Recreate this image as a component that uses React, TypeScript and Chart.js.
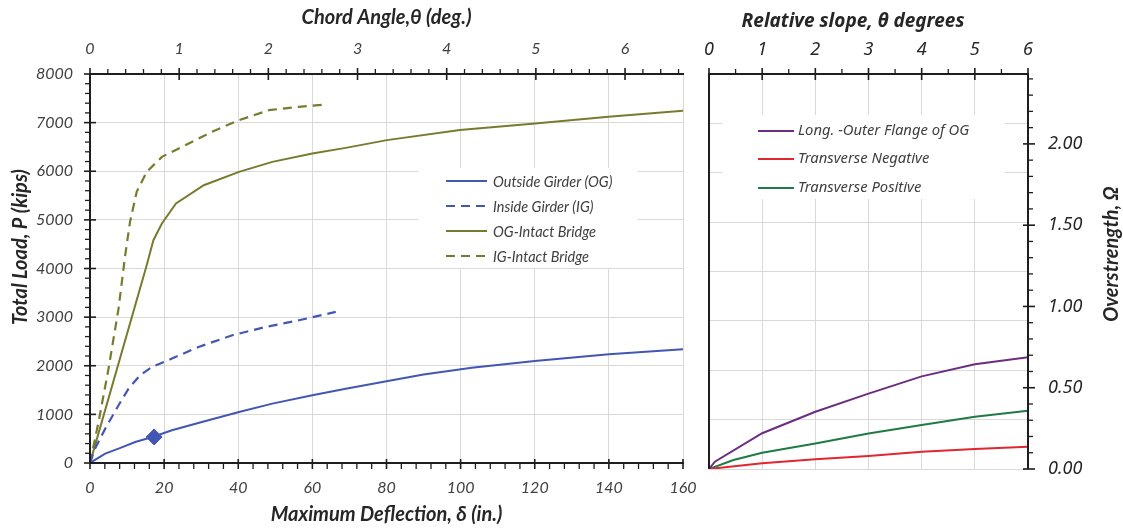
import React, { useEffect, useRef } from "react";
import { Chart, registerables } from "chart.js";

Chart.register(...registerables);

// ---------------- Left chart data: Total load vs maximum deflection ----------------
const ogDefl = [0, 4.1, 7.7, 12.2, 17.1, 22.1, 30.2, 40.2, 49.2, 60, 69, 80, 90, 103, 120, 140, 160];
const ogLoad = [0, 192, 295, 432, 540, 672, 844, 1049, 1221, 1392, 1529, 1680, 1820, 1960, 2100, 2235, 2340];

const igDefl = [0, 1.35, 4.1, 7.7, 10.4, 13.5, 16.7, 22.1, 29.3, 38.4, 47.4, 56.4, 66.3];
const igLoad = [0, 295, 706, 1187, 1529, 1804, 1975, 2147, 2387, 2627, 2798, 2936, 3107];

const ogIntactDefl = [0, 15.3, 17.1, 19.4, 23.2, 30.7, 40.2, 49.2, 60, 69, 80.1, 99.8, 120.1, 139.9, 160];
const ogIntactLoad = [0, 4067, 4582, 4925, 5336, 5713, 5988, 6193, 6365, 6481, 6640, 6846, 6984, 7119, 7243];

const igIntactDefl = [0, 2.3, 5.0, 7.7, 9.5, 10.8, 12.6, 15.3, 19.4, 25.7, 32.9, 40.2, 48.3, 56.4, 64.1];
const igIntactLoad = [0, 844, 1941, 3176, 4273, 4959, 5576, 5988, 6296, 6536, 6811, 7051, 7257, 7325, 7373];

const markerDefl = [17.3];
const markerLoad = [535];

const leftLabels = ["Outside Girder (OG)", "Inside Girder (IG)", "OG-Intact Bridge", "IG-Intact Bridge"];

// ---------------- Right chart data: Overstrength vs relative slope ----------------
const longSlope = [0, 0.11, 1, 2, 3, 4, 5, 6];
const longOmega = [0, 0.045, 0.22, 0.352, 0.464, 0.57, 0.645, 0.687];

const negSlope = [0, 1, 2, 3, 4, 5, 6];
const negOmega = [0, 0.035, 0.06, 0.08, 0.106, 0.123, 0.137];

const posSlope = [0, 0.46, 1, 2, 3, 4, 5, 6];
const posOmega = [0, 0.055, 0.1, 0.157, 0.219, 0.27, 0.321, 0.358];

const rightLabels = ["Long. -Outer Flange of OG", "Transverse Negative", "Transverse Positive"];

const BLUE = "#4356b4";
const OLIVE = "#787b2f";
const PURPLE = "#6c2d80";
const RED = "#e0262e";
const GREEN = "#1f7a45";
const GRID = "#d9d9d9";
const AXIS = "#1e1e1e";
const TEXT = "#404040";
const TITLE = "#262626";

const zip = (xs: number[], ys: number[]) => xs.map((x, i) => ({ x, y: ys[i] }));

function seg(ctx: CanvasRenderingContext2D, x1: number, y1: number, x2: number, y2: number, w: number) {
  ctx.lineWidth = w;
  ctx.beginPath();
  ctx.moveTo(x1, y1);
  ctx.lineTo(x2, y2);
  ctx.stroke();
}

const noPad = (s: any) => {
  s.paddingLeft = 0;
  s.paddingRight = 0;
  s.paddingTop = 0;
  s.paddingBottom = 0;
};

const leftDecor = {
  id: "leftDecor",
  afterDraw(chart: any) {
    const { ctx, chartArea: a, scales } = chart;
    const L = a.left, R = a.right, T = a.top, B = a.bottom;
    ctx.save();
    // legend box
    ctx.fillStyle = "#ffffff";
    ctx.fillRect(418, 168, 220, 100);
    const rows = [181, 206, 231, 256];
    chart.data.datasets.slice(0, 4).forEach((ds: any, i: number) => {
      const y = rows[i];
      ctx.strokeStyle = ds.borderColor;
      ctx.setLineDash(ds.borderDash || []);
      seg(ctx, 446, y, 487, y, 2);
      ctx.setLineDash([]);
      ctx.fillStyle = TEXT;
      ctx.font = "italic 14.5px Lato";
      ctx.textBaseline = "middle";
      ctx.textAlign = "left";
      ctx.fillText(ds.label, 493, y + 1);
    });
    // axes
    ctx.strokeStyle = AXIS;
    seg(ctx, L, T - 1, L, B + 1, 2);
    seg(ctx, L - 1, B, R + 1, B, 2);
    seg(ctx, L - 1, T, R + 1, T, 2);
    for (let i = 0; i <= 40; i++) {
      const y = scales.y.getPixelForValue(i * 200);
      if (i % 5 === 0) seg(ctx, L - 6, y, L + 6, y, 1.6);
      else seg(ctx, L - 5, y, L, y, 1.3);
    }
    for (let i = 0; i <= 40; i++) {
      const x = scales.x.getPixelForValue(i * 4);
      if (i % 5 === 0) seg(ctx, x, B - 4, x, B + 6, 1.6);
      else seg(ctx, x, B, x, B + 6, 1.3);
    }
    const topMax = scales.x2.max;
    for (let i = 0; i * 0.2 <= topMax + 1e-9; i++) {
      const x = scales.x2.getPixelForValue(i * 0.2);
      if (i % 5 === 0) seg(ctx, x, T - 6, x, T + 6, 1.6);
      else seg(ctx, x, T - 5, x, T, 1.3);
    }
    // y-axis title
    ctx.fillStyle = TITLE;
    ctx.font = "italic bold 20px Lato";
    ctx.textAlign = "center";
    ctx.textBaseline = "middle";
    ctx.translate(21, 247);
    ctx.rotate(-Math.PI / 2);
    ctx.fillText("Total Load, P (kips)", 0, 0);
    ctx.restore();
  },
};

const rightDecor = {
  id: "rightDecor",
  afterDraw(chart: any) {
    const { ctx, chartArea: a, scales } = chart;
    const L = a.left, R = a.right, T = a.top, B = a.bottom;
    ctx.save();
    // legend
    ctx.fillStyle = "#ffffff";
    ctx.fillRect(22, 115, 283, 84);
    const rows = [131, 159, 188];
    chart.data.datasets.forEach((ds: any, i: number) => {
      const y = rows[i];
      ctx.strokeStyle = ds.borderColor;
      seg(ctx, 58, y, 94, y, 2);
      ctx.fillStyle = TEXT;
      ctx.font = "italic 14.8px 'Noto Sans'";
      ctx.textBaseline = "middle";
      ctx.textAlign = "left";
      ctx.fillText(ds.label, 98, y);
    });
    // axes
    ctx.strokeStyle = AXIS;
    seg(ctx, L, T - 1, L, B, 2);
    seg(ctx, R, T - 1, R, B, 2);
    seg(ctx, L - 1, T, R + 1, T, 2);
    for (let i = 0; i <= 12; i++) {
      const x = scales.x.getPixelForValue(i * 0.5);
      if (i % 2 === 0) seg(ctx, x, T - 6, x, T + 6, 1.6);
      else seg(ctx, x, T - 5, x, T, 1.3);
    }
    const yMax = scales.y1.max;
    for (let i = 0; i * 0.1 <= yMax + 1e-9; i++) {
      const y = scales.y1.getPixelForValue(i * 0.1);
      if (i % 5 === 0) seg(ctx, R - 5, y, R + 7, y, 1.6);
      else seg(ctx, R, y, R + 5, y, 1.3);
    }
    // titles
    ctx.fillStyle = TITLE;
    ctx.font = "italic bold 19px 'Noto Sans'";
    ctx.textAlign = "center";
    ctx.textBaseline = "middle";
    ctx.fillText("Relative slope, θ degrees", 153, 22);
    ctx.translate(412, 254);
    ctx.rotate(-Math.PI / 2);
    ctx.font = "italic bold 20px Lato";
    ctx.fillText("Overstrength, Ω", 0, 0);
    ctx.restore();
  },
};

export default function App() {
  const leftRef = useRef<HTMLCanvasElement>(null);
  const rightRef = useRef<HTMLCanvasElement>(null);

  useEffect(() => {
    const tickFontL = { family: "Lato", size: 16, style: "italic" as const };
    const titleFontL = { family: "Lato", size: 20, style: "italic" as const, weight: "bold" as const };

    const left = new Chart(leftRef.current as HTMLCanvasElement, {
      type: "scatter",
      data: {
        datasets: [
          { label: leftLabels[0], data: zip(ogDefl, ogLoad), borderColor: BLUE, backgroundColor: BLUE, showLine: true, pointRadius: 0, borderWidth: 2, xAxisID: "x", yAxisID: "y" },
          { label: leftLabels[1], data: zip(igDefl, igLoad), borderColor: BLUE, backgroundColor: BLUE, showLine: true, pointRadius: 0, borderWidth: 2.2, borderDash: [9, 6], xAxisID: "x", yAxisID: "y" },
          { label: leftLabels[2], data: zip(ogIntactDefl, ogIntactLoad), borderColor: OLIVE, backgroundColor: OLIVE, showLine: true, pointRadius: 0, borderWidth: 2, xAxisID: "x", yAxisID: "y" },
          { label: leftLabels[3], data: zip(igIntactDefl, igIntactLoad), borderColor: OLIVE, backgroundColor: OLIVE, showLine: true, pointRadius: 0, borderWidth: 2.2, borderDash: [9, 6], xAxisID: "x", yAxisID: "y" },
          { label: "marker", data: zip(markerDefl, markerLoad), borderColor: BLUE, backgroundColor: BLUE, showLine: false, pointStyle: "rectRot", pointRadius: 8, xAxisID: "x", yAxisID: "y" },
        ],
      },
      options: {
        responsive: false,
        animation: false,
        layout: { padding: { left: 0, right: 17, top: 0, bottom: 0 } },
        plugins: { legend: { display: false }, tooltip: { enabled: false } },
        scales: {
          x: {
            type: "linear",
            position: "bottom",
            min: 0,
            max: 160,
            ticks: { stepSize: 20, font: tickFontL, color: TEXT, padding: 15, maxRotation: 0 },
            grid: { color: GRID, lineWidth: 1, drawTicks: false },
            border: { display: false },
            title: { display: true, text: "Maximum Deflection, δ (in.)", font: titleFontL, color: TITLE, padding: { top: 0, bottom: 2 } },
            afterFit: (s: any) => { s.height = 66; noPad(s); },
          },
          x2: {
            type: "linear",
            position: "top",
            min: 0,
            max: 6.65,
            ticks: { stepSize: 1, includeBounds: false, font: tickFontL, color: TEXT, padding: 16, maxRotation: 0 },
            grid: { display: false, drawTicks: false },
            border: { display: false },
            title: { display: true, text: "Chord Angle,θ (deg.)", font: titleFontL, color: TITLE, padding: { top: 6, bottom: 0 } },
            afterFit: (s: any) => { s.height = 74; noPad(s); },
          },
          y: {
            type: "linear",
            position: "left",
            min: 0,
            max: 8000,
            ticks: { stepSize: 1000, font: tickFontL, color: TEXT, padding: 17, callback: (v: any) => String(v) },
            grid: { color: GRID, lineWidth: 1, drawTicks: false },
            border: { display: false },
            afterFit: (s: any) => { s.width = 90; noPad(s); },
          },
        },
      },
      plugins: [leftDecor],
    });

    const tickFontR = { family: "Noto Sans", size: 18, style: "italic" as const };
    const right = new Chart(rightRef.current as HTMLCanvasElement, {
      type: "scatter",
      data: {
        datasets: [
          { label: rightLabels[0], data: zip(longSlope, longOmega), borderColor: PURPLE, backgroundColor: PURPLE, showLine: true, pointRadius: 0, borderWidth: 2, xAxisID: "x", yAxisID: "y1" },
          { label: rightLabels[1], data: zip(negSlope, negOmega), borderColor: RED, backgroundColor: RED, showLine: true, pointRadius: 0, borderWidth: 2, xAxisID: "x", yAxisID: "y1" },
          { label: rightLabels[2], data: zip(posSlope, posOmega), borderColor: GREEN, backgroundColor: GREEN, showLine: true, pointRadius: 0, borderWidth: 2, xAxisID: "x", yAxisID: "y1" },
        ],
      },
      options: {
        responsive: false,
        animation: false,
        layout: { padding: { left: 0, right: 0, top: 0, bottom: 60 } },
        plugins: { legend: { display: false }, tooltip: { enabled: false } },
        scales: {
          x: {
            type: "linear",
            position: "top",
            min: 0,
            max: 6,
            ticks: { stepSize: 1, font: tickFontR, color: TITLE, padding: 13, maxRotation: 0 },
            grid: { color: GRID, lineWidth: 1, drawTicks: false },
            border: { display: false },
            afterFit: (s: any) => { s.height = 74; noPad(s); },
          },
          y: {
            type: "linear",
            position: "left",
            min: 0,
            max: 8,
            ticks: { stepSize: 1, display: false },
            grid: { color: GRID, lineWidth: 1, drawTicks: false },
            border: { display: false },
            afterFit: (s: any) => { s.width = 9; noPad(s); },
          },
          y1: {
            type: "linear",
            position: "right",
            min: 0,
            max: 2.43,
            ticks: {
              stepSize: 0.5,
              includeBounds: false,
              font: tickFontR,
              color: TITLE,
              padding: 20,
              callback: (v: any) => Number(v).toFixed(2),
            },
            grid: { display: false, drawTicks: false },
            border: { display: false },
            afterFit: (s: any) => { s.width = 95; noPad(s); },
          },
        },
      },
      plugins: [rightDecor],
    });

    return () => {
      left.destroy();
      right.destroy();
    };
  }, []);

  return (
    <div style={{ position: "absolute", left: 0, top: 0, width: 1123, height: 529, background: "#ffffff" }}>
      <canvas ref={leftRef} width={700} height={529} style={{ position: "absolute", left: 0, top: 0 }} />
      <canvas ref={rightRef} width={423} height={529} style={{ position: "absolute", left: 700, top: 0 }} />
    </div>
  );
}
